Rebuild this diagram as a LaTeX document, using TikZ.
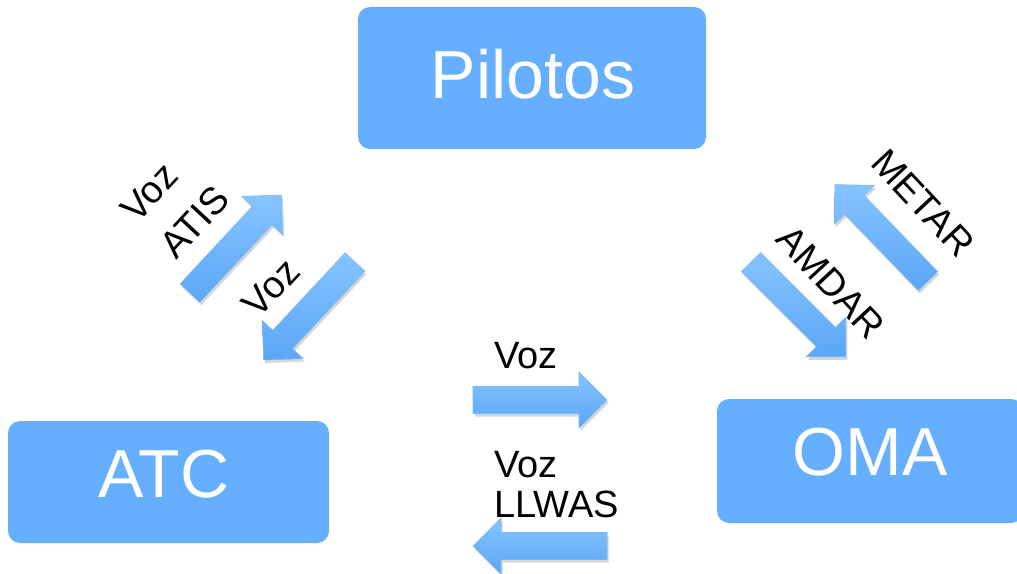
\documentclass[tikz,border=0pt]{standalone}
\usepackage{fontspec}
\setmainfont{Liberation Sans}
\begin{document}
\begin{tikzpicture}[x=0.75pt,y=-0.75pt,
  box/.style={fill=boxblue, rounded corners=9pt, inner sep=0pt},
  boxtext/.style={text=white, inner sep=0pt, anchor=base, font=\fontsize{51}{60}\selectfont},
  lbl/.style={font=\fontsize{28.5}{30}\selectfont, inner sep=0pt, align=left},
  arrowbody/.style={top color=arrowlight, bottom color=arrowdark, draw=arrowdark!80, line width=0.4pt},
  arrowshade/.style={fill=black, opacity=0.16},
  blockarrow/.pic={\path[pic actions] (0,-13.5)--(106,-13.5)--(106,-28)--(134,0)--(106,28)--(106,13.5)--(0,13.5)--cycle;}
]
\definecolor{boxblue}{HTML}{66AEFE}
\definecolor{arrowlight}{HTML}{86C4FF}
\definecolor{arrowdark}{HTML}{5AA6F6}
\useasboundingbox (0,0) rectangle (1017,574);

% agents
\node[box, minimum width=261pt, minimum height=106.5pt] (pil) at (532,78) {};
\node[box, minimum width=240.75pt, minimum height=91.5pt] (atc) at (168.5,482) {};
\node[box, minimum width=229.5pt, minimum height=93pt] (oma) at (870,461) {};
\node[boxtext] (pilt) at (533,99) {Pilotos};
\node[boxtext] (atct) at (164,497) {ATC};
\node[boxtext] (omat) at (870,475) {OMA};

% block arrows: shadow then body
\foreach \px/\py/\ang in {190/293/47, 355/262/-133, 928/281/134, 751/262/-45, 473/400/0, 607/546/180}{
  \pic[arrowshade, rotate=\ang] at (\px+1.5,\py+3) {blockarrow};
  \pic[arrowbody, rotate=\ang] at (\px,\py) {blockarrow};
}

% labels
\node[lbl, rotate=47, font=\fontsize{28.5}{40}\selectfont] (l1) at (175,204) {Voz\\ATIS};
\node[lbl, rotate=47] (l2) at (271,288) {Voz};
\node[lbl, rotate=-47] (l3) at (923,203) {METAR};
\node[lbl, rotate=-47] (l4) at (831,282) {AMDAR};
\node[lbl, anchor=base west] (l5) at (494,368) {Voz};
\node[lbl, anchor=base west] (l6) at (494,517) {Voz\\LLWAS};
\end{tikzpicture}
\end{document}
